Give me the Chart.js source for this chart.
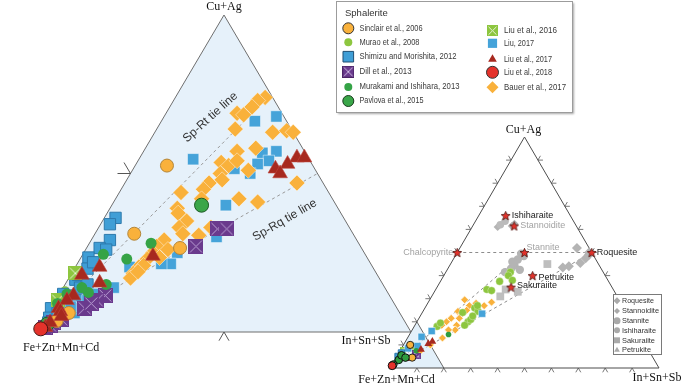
<!DOCTYPE html>
<html>
<head>
<meta charset="utf-8">
<script src="https://cdn.jsdelivr.net/npm/chart.js"></script>
<style>
html,body{margin:0;padding:0;background:#fff;}
#wrap{position:relative;width:700px;height:385px;overflow:hidden;}
#left{position:absolute;left:0;top:0;}
#right{position:absolute;left:340px;top:100px;}
</style>
</head>
<body>
<div id="wrap">
<canvas id="left" width="700" height="385"></canvas>
<canvas id="right" width="360" height="285"></canvas>
</div>
<script>
// every point is [Cu+Ag %, In+Sn+Sb %], Fe+Zn+Mn+Cd is the rest

// left diagram
const sinclairL = [[52.5,8.5],[31,10.5],[26.5,25],[6,5.5],[3.5,3.5]];
const muraoL = [[8,0.5],[5.5,1],[10,1],[13,1]];
const shimizuL = [[36,3],[34,2.5],[29,5],[26.5,3.5],[23.5,2],[20,3.5],[26,5.5],[16.5,2],[14,4.5],[11.5,3],[9,2.5],[7.5,0],[5,3],[4.5,1],[18,2],[22,4],[12,1],[8,2],[3,1.5],[6,2.5],[15,6],[10,6]];
const dillL = [[32.5,32],[32.5,34.5],[27,29],[11.5,12.5],[10,11],[7.5,9],[3,3],[1.5,1.5],[2,2.5],[4,4.5],[9,10]];
const murakamiL = [[24.5,5.5],[23,12.5],[28,16.5],[12.5,7.5],[15,11],[12,2],[9,1],[6,3],[14,5]];
const pavlovaL = [[40,24],[2.5,1.5]];
const liu2016L = [[18.5,1],[10,0.5]];
const liuSqL = [[68,30],[66.5,25],[54.5,14.5],[57,35.5],[56.5,32],[54,35],[53,32.5],[50,32],[51.5,27],[40,30.5],[30,33],[25,25],[21.5,25],[21.5,22.5],[20.5,14.5],[14,13.5],[6,7],[7.5,7.5],[10,8.5],[12,10],[4,4],[8,5]];
const liuTriL = [[55,42],[55,44],[53,40.5],[51.5,38],[50,40],[24,19],[20.5,6.5],[18,3],[15.5,9],[11.5,4],[10,3],[7.5,2],[6.5,3],[1.5,1.5],[3,2],[5,4]];
const liu2018L = [[1,0.5]];
const bauerL = [[74,24],[73,22.5],[71,22],[69,19],[68.5,21],[64,21],[63,31.5],[63.5,35],[63,37],[58,29.5],[57,25],[53.5,22.5],[52.5,25],[54,26.5],[50,24],[51,31],[48,25.5],[47,22.5],[45,22],[42,23],[44,16.5],[42,33],[41,38.5],[47,46],[39,18],[37.5,19],[35,22.5],[33,21.5],[31,23.5],[30.5,28],[33,30],[29,19.5],[27,18.5],[25,18.5],[23,18],[20.5,17],[18.5,16.5],[17,16.5],[23.5,21],[26,22],[21,18],[19,17.5]];
const tieRtL = [[0,0],[75,25]];
const tieRqL = [[0,0],[50,50]];

// right diagram
const sinclairR = [[10,2.5],[4.5,6]];
const muraoR = [[41.5,24],[40,24],[38,26.5],[37.5,22],[34,19],[33.5,21],[26,18.5],[24.5,20.5],[20,19],[18.5,18.5],[18,8.5],[21,19.5],[22.5,19.5],[9.5,3.5],[19.5,9],[27,19],[24,15]];
const shimizuR = [[6.5,1],[5,0.5]];
const dillR = [[5,8],[6.5,6]];
const murakamiR = [[14.5,14.5],[7.5,6],[4,2]];
const pavlovaR = [[3.5,1.5],[1.5,0.5],[5.5,1.5],[4.5,3.5]];
const liu2016R = [[8,1]];
const liuSqR = [[23.5,22.5],[13.5,5],[9.5,5.5],[16,7.5],[8.5,2.5]];
const liuTriR = [[10.5,9],[11.5,10],[4,4],[8,7.5]];
const liu2018R = [[1,0.3]];
const bauerR = [[29.5,13],[27,16],[27,21.5],[28.5,23.5],[24.5,13],[21.5,12],[20,11],[18.5,10],[18.5,15.5],[16.5,16],[13,13],[23.5,15],[25,16],[28,18],[16.5,13.5],[10,10],[7,7.5],[21.5,15]];

const roquesiteR = [[52,43.5],[49,49.5],[47.5,49],[45.5,48],[44,44.5],[43.5,42.5],[50,49]];
const stannoiditeR = [[62.5,15],[61.5,14.5],[61,9.5]];
const stanniteR = [[49.5,24],[47,24],[44.5,24],[42.5,27],[41.5,22],[43,23.5],[48.5,25.5],[46,22.5]];
const ishiharaiteR = [[62,10],[63.5,11]];
const sakuraiiteR = [[45,36],[31,25.5],[34,26],[33,31]];
const petrukiteR = [[35,27.5]];

const mineralNames = ['Ishiharaite','Stannoidite','Stannite','Chalcopyrite','Roquesite','Petrukite','Sakuraiite'];
const mineralCu = [66, 61.5, 50, 50, 50, 40, 35];
const mineralIn = [10, 15.4, 25, 0, 50, 33, 27.5];
const tieCcpRq = [[50,0],[50,50]];
const tieSpSt = [[0,0],[50,25]];
const tieSpRq = [[0,0],[50,50]];

const legendCol1 = ['Sinclair et al., 2006','Murao et al., 2008','Shimizu and Morishita, 2012','Dill et al., 2013','Murakami and Ishihara, 2013','Pavlova et al., 2015'];
const legendCol2 = ['Liu et al., 2016','Liu, 2017','Liu et al., 2017','Liu et al., 2018','Bauer et al., 2017'];
const legendMin = ['Roquesite','Stannoidite','Stannite','Ishiharaite','Sakuraiite','Petrukite'];

const tern = p => ({x: p[1] + p[0] / 2, y: p[0]});
function px(chart, cu, inn) {
  return {x: chart.scales.x.getPixelForValue(inn + cu / 2), y: chart.scales.y.getPixelForValue(cu)};
}

function crossSquare(side, fill, line, edge) {
  const c = document.createElement('canvas');
  c.width = side; c.height = side;
  const g = c.getContext('2d');
  g.fillStyle = fill; g.fillRect(0, 0, side, side);
  g.strokeStyle = line; g.lineWidth = 1;
  g.beginPath();
  g.moveTo(1.5, 1.5); g.lineTo(side - 1.5, side - 1.5);
  g.moveTo(side - 1.5, 1.5); g.lineTo(1.5, side - 1.5);
  g.stroke();
  if (edge) { g.strokeStyle = edge; g.strokeRect(0.5, 0.5, side - 1, side - 1); }
  return c;
}
function starImg(size) {
  const c = document.createElement('canvas');
  c.width = size; c.height = size;
  const g = c.getContext('2d');
  const R = size / 2 - 0.8, r2 = R * 0.45, cx = size / 2, cy = size / 2 + 0.5;
  g.beginPath();
  for (let i = 0; i < 10; i++) {
    const a = -Math.PI / 2 + i * Math.PI / 5, rr = i % 2 ? r2 : R;
    g.lineTo(cx + rr * Math.cos(a), cy + rr * Math.sin(a));
  }
  g.closePath();
  g.fillStyle = '#E2322B'; g.fill();
  g.strokeStyle = '#4a1510'; g.lineWidth = 0.8; g.stroke();
  return c;
}

function mark(ctx, s, x, y) {
  ctx.save();
  if (s.img) { ctx.drawImage(s.img, x - s.img.width / 2, y - s.img.height / 2); ctx.restore(); return; }
  ctx.fillStyle = s.fill; ctx.strokeStyle = s.stroke || s.fill; ctx.lineWidth = s.lw || 0;
  const r = s.r;
  ctx.beginPath();
  if (s.shape === 'circle') ctx.arc(x, y, r, 0, Math.PI * 2);
  else if (s.shape === 'rect') { const h = r * Math.SQRT1_2; ctx.rect(x - h, y - h, 2 * h, 2 * h); }
  else if (s.shape === 'rectRot') { ctx.moveTo(x, y - r); ctx.lineTo(x + r, y); ctx.lineTo(x, y + r); ctx.lineTo(x - r, y); ctx.closePath(); }
  else if (s.shape === 'triangle') { ctx.moveTo(x, y - r); ctx.lineTo(x + r * 0.866, y + r * 0.5); ctx.lineTo(x - r * 0.866, y + r * 0.5); ctx.closePath(); }
  ctx.fill();
  if (s.lw) ctx.stroke();
  ctx.restore();
}
function chev(ctx, p, a, b) {
  ctx.beginPath();
  ctx.moveTo(p.x + a[0], p.y + a[1]); ctx.lineTo(p.x, p.y); ctx.lineTo(p.x + b[0], p.y + b[1]);
  ctx.stroke();
}

function ds(data, st) {
  return {
    data: data.map(tern), clip: false,
    pointStyle: st.img || st.shape,
    pointRadius: st.r || 5, pointHoverRadius: st.r || 5,
    backgroundColor: st.fill, borderColor: st.stroke || st.fill, borderWidth: st.lw || 0
  };
}
function tie(pair, color) {
  return {data: pair.map(tern), showLine: true, pointRadius: 0, borderColor: color, borderWidth: 1, borderDash: [3, 3], clip: false};
}

const ORANGE = '#F9B13B', LGREEN = '#8DC63F', BLUE = '#45A3D9', GREEN = '#35A346', RED = '#A7291F', GREY = '#B4B4B4';

// styles, left diagram
const sL = {
  sinclair: {shape: 'circle', r: 6.5, fill: ORANGE, stroke: '#B3863A', lw: 1},
  murao: {shape: 'circle', r: 4.5, fill: LGREEN},
  shimizu: {shape: 'rect', r: 8, fill: '#3F9ED6', stroke: '#2D79AC', lw: 1},
  dill: {img: crossSquare(15, '#6A3A8D', '#B99ED3')},
  murakami: {shape: 'circle', r: 5.5, fill: GREEN},
  pavlova: {shape: 'circle', r: 7, fill: '#3AA649', stroke: '#1E5B28', lw: 1},
  liu2016: {img: crossSquare(14, LGREEN, '#EAF4D8')},
  liuSq: {shape: 'rect', r: 8, fill: BLUE, stroke: 'rgba(255,255,255,0.6)', lw: 0.8},
  liuTri: {shape: 'triangle', r: 8.5, fill: RED, stroke: '#c0473d', lw: 0.6},
  liu2018: {shape: 'circle', r: 7, fill: '#E5322B', stroke: '#4a1510', lw: 1},
  bauer: {shape: 'rectRot', r: 8, fill: ORANGE, stroke: 'rgba(255,255,255,0.55)', lw: 0.8}
};
// styles, right diagram
const sR = {
  sinclair: {shape: 'circle', r: 3.6, fill: ORANGE, stroke: '#222', lw: 1},
  murao: {shape: 'circle', r: 3.8, fill: LGREEN, stroke: 'rgba(255,255,255,0.6)', lw: 0.5},
  shimizu: {shape: 'rect', r: 4.5, fill: '#3F9ED6', stroke: '#2D79AC', lw: 1},
  dill: {img: crossSquare(6, '#6A3A8D', '#B99ED3')},
  murakami: {shape: 'circle', r: 2.8, fill: '#2E9C3F'},
  pavlova: {shape: 'circle', r: 3.8, fill: '#2E9C3F', stroke: '#111', lw: 1},
  liu2016: {img: crossSquare(6, LGREEN, '#EAF4D8')},
  liuSq: {shape: 'rect', r: 5, fill: BLUE, stroke: 'rgba(255,255,255,0.7)', lw: 0.6},
  liuTri: {shape: 'triangle', r: 4.5, fill: RED},
  liu2018: {shape: 'circle', r: 4, fill: '#E5322B', stroke: '#111', lw: 1},
  bauer: {shape: 'rectRot', r: 4, fill: ORANGE, stroke: '#fff', lw: 0.8},
  roquesite: {shape: 'rectRot', r: 5, fill: GREY},
  stannoidite: {shape: 'rectRot', r: 4, fill: GREY},
  stannite: {shape: 'circle', r: 4.2, fill: GREY},
  ishiharaite: {shape: 'circle', r: 3.8, fill: '#BBBBBB'},
  sakuraiite: {shape: 'rect', r: 5.5, fill: '#BEBEBE'},
  petrukite: {shape: 'triangle', r: 4, fill: '#BEBEBE'},
  star: {img: starImg(11), r: 5}
};

const leftPlugin = {
  id: 'leftFrame',
  beforeDatasetsDraw(chart) {
    const ctx = chart.ctx;
    const fe = px(chart, 0, 0), sn = px(chart, 0, 100), cu = px(chart, 100, 0);
    ctx.save();
    ctx.beginPath();
    ctx.moveTo(fe.x, fe.y); ctx.lineTo(sn.x, sn.y); ctx.lineTo(cu.x, cu.y); ctx.closePath();
    ctx.fillStyle = '#E6F1FA'; ctx.fill();
    ctx.strokeStyle = '#6e6e6e'; ctx.lineWidth = 1; ctx.stroke();
    ctx.strokeStyle = '#555';
    chev(ctx, px(chart, 50, 0), [-13, 0], [-6.5, -11]);
    chev(ctx, px(chart, 0, 50), [-5, 8.7], [5, 8.7]);
    ctx.restore();
  },
  afterDatasetsDraw(chart) {
    const ctx = chart.ctx;
    const fe = px(chart, 0, 0), sn = px(chart, 0, 100), cu = px(chart, 100, 0);
    ctx.save();
    ctx.fillStyle = '#111';
    ctx.font = '12px "Liberation Serif"';
    ctx.textBaseline = 'middle';
    ctx.textAlign = 'center';
    ctx.fillText('Cu+Ag', cu.x, cu.y - 8);
    ctx.fillText('In+Sn+Sb', sn.x - 45, sn.y + 9);
    ctx.textAlign = 'left';
    ctx.fillText('Fe+Zn+Mn+Cd', fe.x - 14, fe.y + 16);

    // tie line captions
    ctx.font = '12px "Liberation Sans"';
    ctx.fillStyle = '#333';
    ctx.textAlign = 'center';
    [[67.7, 12.5, -42, 'Sp-Rt tie line'], [35.3, 48.6, -30, 'Sp-Rq tie line']].forEach(t => {
      const p = px(chart, t[0], t[1]);
      ctx.save(); ctx.translate(p.x, p.y); ctx.rotate(t[2] * Math.PI / 180);
      ctx.fillText(t[3], 0, 0); ctx.restore();
    });

    // legend box
    ctx.save();
    ctx.shadowColor = 'rgba(0,0,0,0.35)'; ctx.shadowBlur = 2; ctx.shadowOffsetX = 1; ctx.shadowOffsetY = 1;
    ctx.fillStyle = '#fff';
    ctx.fillRect(336.5, 1.5, 236, 111);
    ctx.restore();
    ctx.strokeStyle = '#9c9c9c'; ctx.lineWidth = 1;
    ctx.strokeRect(336.5, 1.5, 236, 111);
    ctx.textAlign = 'left';
    ctx.fillStyle = '#333';
    ctx.font = '9.5px "Liberation Sans"';
    ctx.fillText('Sphalerite', 345, 13, 43);
    const m1 = [
      {shape: 'circle', r: 5.5, fill: ORANGE, stroke: '#333', lw: 1},
      {shape: 'circle', r: 4, fill: LGREEN},
      {shape: 'rect', r: 7.5, fill: '#3F9ED6', stroke: '#1f4f73', lw: 1},
      {img: crossSquare(12, '#6A3A8D', '#D0BDE3', '#4b2466')},
      {shape: 'circle', r: 4, fill: GREEN},
      {shape: 'circle', r: 5.5, fill: '#3AA649', stroke: '#1b3d1f', lw: 1}
    ];
    const y1 = [28.3, 42.3, 56.7, 71.7, 87, 101];
    const w1 = [63, 60, 97, 52, 100, 64];
    const m2 = [
      {img: crossSquare(11, LGREEN, '#EAF4D8')},
      {shape: 'rect', r: 6.5, fill: BLUE},
      {shape: 'triangle', r: 5, fill: RED},
      {shape: 'circle', r: 6, fill: '#E5322B', stroke: '#333', lw: 1},
      {shape: 'rectRot', r: 6, fill: ORANGE}
    ];
    const y2 = [30.7, 43.3, 59.3, 72.3, 87.3];
    const w2 = [53, 30, 48, 48, 62];
    ctx.font = '9px "Liberation Sans"';
    ctx.fillStyle = '#3a3a3a';
    legendCol1.forEach((t, i) => { mark(ctx, m1[i], 348.3, y1[i]); ctx.fillStyle = '#3a3a3a'; ctx.fillText(t, 359.5, y1[i], w1[i]); });
    legendCol2.forEach((t, i) => { mark(ctx, m2[i], 492.5, y2[i]); ctx.fillStyle = '#3a3a3a'; ctx.fillText(t, 504, y2[i], w2[i]); });
    ctx.restore();
  }
};

const starLabel = [
  [6, -0.5, 'left', '#1a1a1a'],
  [6, 0, 'left', '#a3a3a3'],
  [2, -5, 'left', '#a3a3a3'],
  [-4, 0, 'right', '#a3a3a3'],
  [5, 0.5, 'left', '#1a1a1a'],
  [6, 1.5, 'left', '#1a1a1a'],
  [6, -1.5, 'left', '#1a1a1a']
];

const rightPlugin = {
  id: 'rightFrame',
  beforeDatasetsDraw(chart) {
    const ctx = chart.ctx;
    const fe = px(chart, 0, 0), sn = px(chart, 0, 100), cu = px(chart, 100, 0);
    const a = px(chart, 20, 0), b = px(chart, 0, 20);
    ctx.save();
    ctx.beginPath();
    ctx.moveTo(fe.x, fe.y); ctx.lineTo(b.x, b.y); ctx.lineTo(a.x, a.y); ctx.closePath();
    ctx.fillStyle = '#E3F0FA'; ctx.fill();
    ctx.strokeStyle = '#666'; ctx.lineWidth = 1;
    ctx.beginPath(); ctx.moveTo(a.x, a.y); ctx.lineTo(b.x, b.y); ctx.stroke();
    ctx.strokeStyle = '#4d4d4d';
    ctx.beginPath();
    ctx.moveTo(fe.x, fe.y); ctx.lineTo(sn.x, sn.y); ctx.lineTo(cu.x, cu.y); ctx.closePath();
    ctx.stroke();
    ctx.strokeStyle = '#555'; ctx.lineWidth = 0.8;
    for (let v = 10; v < 100; v += 10) {
      chev(ctx, px(chart, 0, v), [-2.5, 4.3], [2.5, 4.3]);
      chev(ctx, px(chart, v, 0), [-5, 0], [-2.5, -4.3]);
      chev(ctx, px(chart, v, 100 - v), [5, 0], [2.5, -4.3]);
    }
    ctx.restore();
  },
  afterDatasetsDraw(chart) {
    const ctx = chart.ctx;
    const fe = px(chart, 0, 0), sn = px(chart, 0, 100), cu = px(chart, 100, 0);
    ctx.save();
    ctx.textBaseline = 'middle';
    ctx.fillStyle = '#111';
    ctx.font = '12px "Liberation Serif"';
    ctx.textAlign = 'center';
    ctx.fillText('Cu+Ag', cu.x - 1, cu.y - 7);
    ctx.fillText('Fe+Zn+Mn+Cd', fe.x + 6.5, fe.y + 12);
    ctx.fillText('In+Sn+Sb', sn.x - 2, sn.y + 10);

    const meta = chart.getDatasetMeta(0);
    ctx.font = '9px "Liberation Sans"';
    mineralNames.forEach((n, i) => {
      const el = meta.data[i], o = starLabel[i];
      ctx.fillStyle = o[3]; ctx.textAlign = o[2];
      ctx.fillText(n, el.x + o[0], el.y + o[1]);
    });

    // mineral legend
    ctx.fillStyle = '#fff';
    ctx.fillRect(273.5, 194.5, 48, 60);
    ctx.strokeStyle = '#7a7a7a'; ctx.lineWidth = 1;
    ctx.strokeRect(273.5, 194.5, 48, 60);
    const mm = [
      {shape: 'rectRot', r: 3.5, fill: '#A9A9A9'},
      {shape: 'rectRot', r: 3, fill: '#A9A9A9'},
      {shape: 'circle', r: 3.5, fill: '#A9A9A9'},
      {shape: 'circle', r: 3, fill: '#A9A9A9'},
      {shape: 'rect', r: 4.2, fill: '#A9A9A9'},
      {shape: 'triangle', r: 3.3, fill: '#A9A9A9'}
    ];
    const yy = [200.7, 211, 220.7, 230.3, 240.3, 250];
    const ww = [32, 37, 27, 34, 33, 29];
    ctx.font = '8px "Liberation Sans"';
    ctx.textAlign = 'left';
    legendMin.forEach((t, i) => {
      mark(ctx, mm[i], 277, yy[i]);
      ctx.fillStyle = '#333';
      ctx.fillText(t, 282, yy[i], ww[i]);
    });
    ctx.restore();
  }
};

const axes = {
  x: {type: 'linear', min: 0, max: 100, display: false},
  y: {type: 'linear', min: 0, max: 100, display: false}
};

new Chart(document.getElementById('left'), {
  type: 'scatter',
  data: {
    datasets: [
      ds(liu2018L, sL.liu2018), ds(liuTriL, sL.liuTri), ds(sinclairL, sL.sinclair),
      ds(pavlovaL, sL.pavlova), ds(murakamiL, sL.murakami), ds(dillL, sL.dill),
      ds(bauerL, sL.bauer), ds(liu2016L, sL.liu2016), ds(liuSqL, sL.liuSq),
      ds(shimizuL, sL.shimizu), ds(muraoL, sL.murao),
      tie(tieRtL, '#9a9a9a'), tie(tieRqL, '#9a9a9a')
    ]
  },
  options: {
    responsive: false, animation: false, events: [],
    layout: {padding: {left: 37, right: 289, top: 15, bottom: 53}},
    plugins: {legend: {display: false}, tooltip: {enabled: false}},
    scales: axes
  },
  plugins: [leftPlugin]
});

const stars = mineralCu.map((c, i) => [c, mineralIn[i]]);

new Chart(document.getElementById('right'), {
  type: 'scatter',
  data: {
    datasets: [
      ds(stars, sR.star),
      ds(liu2018R, sR.liu2018), ds(pavlovaR, sR.pavlova), ds(sinclairR, sR.sinclair),
      ds(liuTriR, sR.liuTri), ds(murakamiR, sR.murakami), ds(dillR, sR.dill),
      ds(shimizuR, sR.shimizu), ds(liuSqR, sR.liuSq), ds(liu2016R, sR.liu2016),
      ds(muraoR, sR.murao), ds(bauerR, sR.bauer),
      ds(petrukiteR, sR.petrukite), ds(sakuraiiteR, sR.sakuraiite), ds(ishiharaiteR, sR.ishiharaite),
      ds(stanniteR, sR.stannite), ds(stannoiditeR, sR.stannoidite), ds(roquesiteR, sR.roquesite),
      tie(tieCcpRq, '#8c8c8c'), tie(tieSpSt, '#8c8c8c'), tie(tieSpRq, '#8c8c8c')
    ]
  },
  options: {
    responsive: false, animation: false, events: [],
    layout: {padding: {left: 50, right: 41, top: 37, bottom: 17}},
    plugins: {legend: {display: false}, tooltip: {enabled: false}},
    scales: axes
  },
  plugins: [rightPlugin]
});
</script>
</body>
</html>
